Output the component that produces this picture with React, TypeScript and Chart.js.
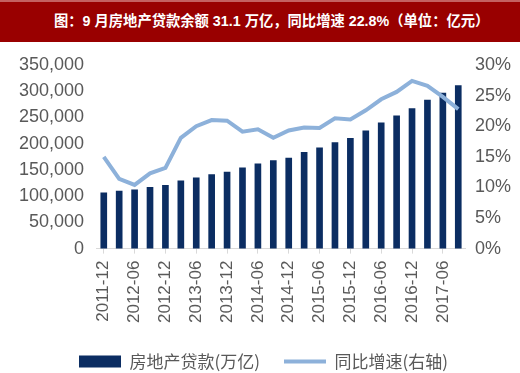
import React, { useEffect, useRef } from "react";
import { Chart, registerables } from "chart.js";

Chart.register(...registerables);

const categories = [
  "2011-12", "2012-03", "2012-06", "2012-09", "2012-12", "2013-03", "2013-06", "2013-09",
  "2013-12", "2014-03", "2014-06", "2014-09", "2014-12", "2015-03", "2015-06", "2015-09",
  "2015-12", "2016-03", "2016-06", "2016-09", "2016-12", "2017-03", "2017-06", "2017-09",
];

const loanBalance = [
  106500, 109700, 112000, 117000, 120500, 129000, 135000, 141000,
  145700, 154000, 161500, 167700, 172800, 183500, 192000, 202000,
  210000, 224500, 239600, 252900, 266800, 283000, 296400, 311000,
];

const yoyGrowth = [
  15.0, 11.4, 10.4, 12.3, 13.2, 18.1, 20.0, 21.0,
  20.9, 19.1, 19.5, 18.1, 19.3, 19.8, 19.7, 21.3,
  21.1, 22.6, 24.4, 25.6, 27.4, 26.6, 24.8, 22.8,
];

const titleText = "图：9 月房地产贷款余额 31.1 万亿，同比增速 22.8%（单位：亿元）";
const barLabel = "房地产贷款(万亿)";
const lineLabel = "同比增速(右轴)";

const BAR_COLOR = "#0b2d62";
const LINE_COLOR = "#8db1da";
const TEXT_COLOR = "#595959";

export default function App() {
  const canvasRef = useRef<HTMLCanvasElement | null>(null);

  useEffect(() => {
    document.body.style.margin = "0";
    const canvas = canvasRef.current;
    if (!canvas) return;
    const chart = new Chart(canvas, {
      type: "bar",
      data: {
        labels: categories,
        datasets: [
          {
            type: "line",
            label: lineLabel,
            data: yoyGrowth,
            yAxisID: "y1",
            borderColor: LINE_COLOR,
            backgroundColor: LINE_COLOR,
            borderWidth: 4,
            pointRadius: 0,
            tension: 0,
            pointStyle: "line",
            order: 0,
          },
          {
            type: "bar",
            label: barLabel,
            data: loanBalance,
            yAxisID: "y",
            backgroundColor: BAR_COLOR,
            borderWidth: 0,
            barThickness: 6,
            pointStyle: "rect",
            order: 1,
          },
        ],
      },
      options: {
        responsive: false,
        animation: false,
        maintainAspectRatio: false,
        layout: { padding: { left: 15, right: 8, top: 23, bottom: -7 } },
        plugins: {
          tooltip: { enabled: false },
          legend: {
            position: "bottom",
            labels: {
              usePointStyle: true,
              pointStyleWidth: 42,
              boxHeight: 12,
              color: TEXT_COLOR,
              font: { family: "'Noto Sans CJK SC', sans-serif", size: 17 },
              padding: 24,
              sort: (a, b) => b.datasetIndex - a.datasetIndex,
            },
          },
        },
        scales: {
          x: {
            offset: true,
            grid: {
              offset: false,
              drawOnChartArea: false,
              drawTicks: true,
              tickLength: 5,
              color: "#d9d9d9",
            },
            border: { display: true, color: "#d9d9d9", width: 1 },
            ticks: {
              autoSkip: false,
              minRotation: 90,
              maxRotation: 90,
              padding: 7,
              color: TEXT_COLOR,
              font: { family: "'Liberation Sans', Arial, sans-serif", size: 17 },
              callback: (_v, i) => (i % 2 === 0 ? categories[i] : null),
            },
            afterFit: (scale) => {
              scale.height -= 1;
            },
          },
          y: {
            position: "left",
            min: 0,
            max: 350000,
            grid: { display: false },
            border: { display: false },
            ticks: {
              stepSize: 50000,
              padding: 4,
              color: TEXT_COLOR,
              font: { family: "'Liberation Sans', Arial, sans-serif", size: 18 },
              callback: (v) => Number(v).toLocaleString("en-US"),
            },
          },
          y1: {
            position: "right",
            min: 0,
            max: 30,
            grid: { display: false },
            border: { display: false },
            ticks: {
              stepSize: 5,
              padding: 1,
              color: TEXT_COLOR,
              font: { family: "'Liberation Sans', Arial, sans-serif", size: 18 },
              callback: (v) => `${v}%`,
            },
          },
        },
      },
    });
    return () => chart.destroy();
  }, []);

  return (
    <div style={{ position: "absolute", left: 0, top: 0, width: 520, height: 373, background: "#fff" }}>
      <div
        style={{
          height: 42,
          background: "#990000",
          borderTop: "2px solid #c46060",
          boxSizing: "border-box",
          color: "#fff",
          fontWeight: "bold",
          fontSize: 14.3,
          fontFamily: "'Liberation Sans', 'Noto Sans CJK SC', sans-serif",
          lineHeight: "38px",
          paddingLeft: 54,
          whiteSpace: "nowrap",
        }}
      >
        {titleText}
      </div>
      <canvas ref={canvasRef} width={520} height={331} style={{ display: "block" }} />
    </div>
  );
}
